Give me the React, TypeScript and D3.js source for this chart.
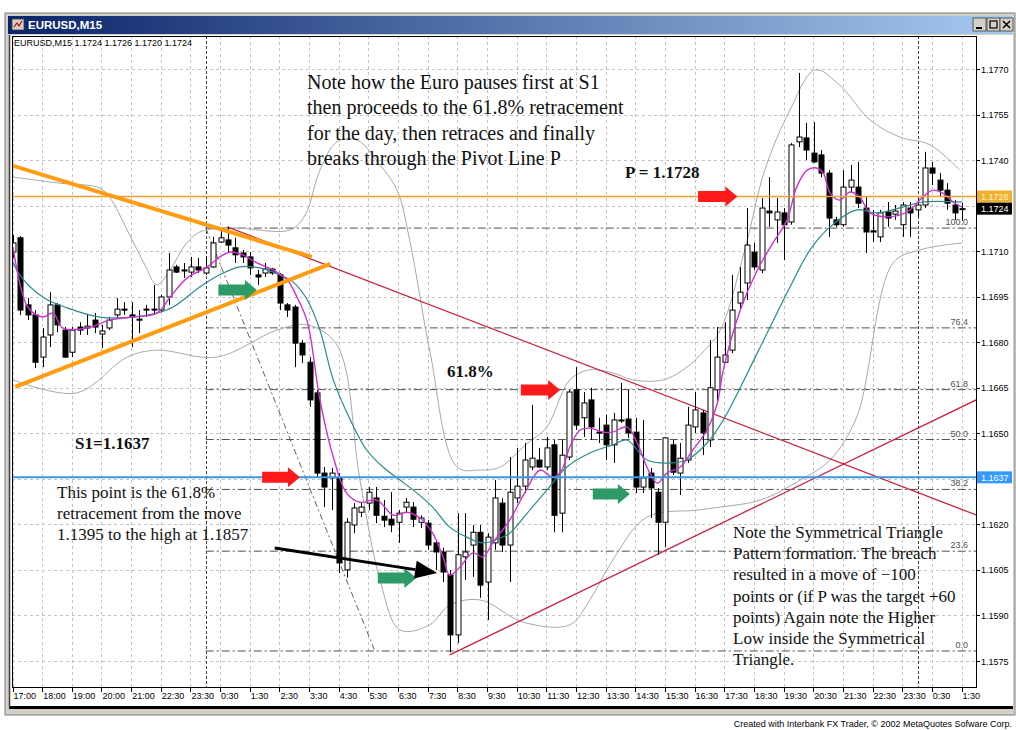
import React from "react";
import * as d3 from "d3";

// ---------- DATA (EURUSD M15) ----------
const barOpen = [1.17097,1.17144,1.16923,1.16890,1.16751,1.16824,1.16923,1.16840,1.16767,1.16850,1.16847,1.16873,1.16827,1.16847,1.16890,1.16909,1.16890,1.16876,1.16906,1.16906,1.16906,1.16949,1.17048,1.17038,1.17031,1.17048,1.17028,1.17048,1.17130,1.17137,1.17111,1.17094,1.17081,1.17022,1.17028,1.17041,1.17022,1.16923,1.16916,1.16797,1.16734,1.16633,1.16369,1.16353,1.16353,1.16050,1.16198,1.16240,1.16270,1.16287,1.16227,1.16217,1.16207,1.16257,1.16257,1.16207,1.16204,1.16139,1.16109,1.16034,1.15836,1.16093,1.16132,1.16174,1.16010,1.16139,1.16270,1.16132,1.16287,1.16326,1.16389,1.16412,1.16389,1.16462,1.16237,1.16422,1.16643,1.16551,1.16610,1.16504,1.16527,1.16462,1.16541,1.16547,1.16504,1.16323,1.16369,1.16306,1.16207,1.16462,1.16369,1.16412,1.16521,1.16567,1.16478,1.16643,1.16734,1.16774,1.16929,1.16995,1.17097,1.17038,1.17232,1.17203,1.17226,1.17196,1.17460,1.17473,1.17423,1.17417,1.17357,1.17203,1.17187,1.17311,1.17311,1.17242,1.17167,1.17147,1.17229,1.17222,1.17187,1.17242,1.17236,1.17252,1.17374,1.17334,1.17301,1.17252,1.17240];
const barHigh = [1.17153,1.17150,1.16946,1.16906,1.16847,1.16965,1.16929,1.16850,1.16850,1.16866,1.16890,1.16896,1.16857,1.16883,1.16946,1.16932,1.16932,1.16906,1.16923,1.16989,1.16956,1.17094,1.17055,1.17061,1.17081,1.17078,1.17081,1.17147,1.17170,1.17180,1.17144,1.17104,1.17097,1.17038,1.17061,1.17045,1.17028,1.16929,1.16923,1.16807,1.16751,1.16643,1.16389,1.16386,1.16369,1.16221,1.16270,1.16273,1.16323,1.16323,1.16280,1.16306,1.16247,1.16287,1.16273,1.16230,1.16214,1.16149,1.16123,1.16050,1.16237,1.16237,1.16198,1.16198,1.16171,1.16346,1.16287,1.16422,1.16452,1.16468,1.16594,1.16452,1.16488,1.16478,1.16478,1.16643,1.16718,1.16636,1.16650,1.16551,1.16561,1.16567,1.16666,1.16643,1.16551,1.16544,1.16386,1.16320,1.16488,1.16478,1.16468,1.16587,1.16636,1.16577,1.16807,1.16850,1.16866,1.17022,1.17048,1.17242,1.17127,1.17275,1.17344,1.17275,1.17242,1.17456,1.17687,1.17522,1.17525,1.17433,1.17367,1.17213,1.17367,1.17384,1.17394,1.17278,1.17236,1.17236,1.17262,1.17252,1.17262,1.17262,1.17275,1.17427,1.17394,1.17357,1.17324,1.17268,1.17260];
const barLow = [1.17078,1.16890,1.16873,1.16715,1.16718,1.16784,1.16833,1.16748,1.16751,1.16824,1.16824,1.16830,1.16781,1.16840,1.16880,1.16890,1.16784,1.16830,1.16883,1.16890,1.16899,1.16923,1.17028,1.17012,1.17015,1.17028,1.17022,1.17045,1.17127,1.17097,1.17061,1.17061,1.17022,1.16989,1.17015,1.17022,1.16906,1.16883,1.16718,1.16731,1.16587,1.16356,1.16257,1.16247,1.16040,1.16024,1.16171,1.16224,1.16247,1.16204,1.16191,1.16174,1.16139,1.16237,1.16191,1.16188,1.16116,1.16050,1.16010,1.15779,1.15809,1.16017,1.16027,1.15958,1.15885,1.16116,1.16109,1.16010,1.16270,1.16303,1.16379,1.16386,1.16379,1.16174,1.16174,1.16412,1.16511,1.16488,1.16478,1.16468,1.16412,1.16402,1.16534,1.16485,1.16303,1.16303,1.16221,1.16100,1.16126,1.16363,1.16297,1.16402,1.16501,1.16428,1.16455,1.16600,1.16731,1.16764,1.16906,1.16939,1.17038,1.17028,1.17180,1.17127,1.17071,1.17187,1.17443,1.17400,1.17390,1.17344,1.17147,1.17180,1.17180,1.17295,1.17242,1.17094,1.17130,1.17130,1.17180,1.17203,1.17147,1.17147,1.17213,1.17242,1.17318,1.17278,1.17236,1.17203,1.17200];
const barClose = [1.17127,1.16906,1.16890,1.16734,1.16817,1.16923,1.16857,1.16751,1.16840,1.16840,1.16853,1.16850,1.16837,1.16873,1.16909,1.16906,1.16883,1.16873,1.16909,1.16909,1.16949,1.17038,1.17031,1.17035,1.17048,1.17038,1.17045,1.17127,1.17144,1.17120,1.17088,1.17081,1.17045,1.17015,1.17041,1.17028,1.16929,1.16906,1.16797,1.16758,1.16610,1.16369,1.16323,1.16369,1.16073,1.16207,1.16254,1.16257,1.16306,1.16230,1.16214,1.16198,1.16237,1.16273,1.16217,1.16221,1.16132,1.16109,1.16043,1.15836,1.16100,1.16109,1.16174,1.16000,1.16158,1.16287,1.16132,1.16306,1.16326,1.16412,1.16418,1.16389,1.16452,1.16230,1.16428,1.16636,1.16527,1.16600,1.16521,1.16501,1.16462,1.16544,1.16544,1.16501,1.16323,1.16353,1.16320,1.16207,1.16485,1.16372,1.16418,1.16527,1.16577,1.16501,1.16650,1.16751,1.16758,1.16906,1.16965,1.17120,1.17048,1.17242,1.17226,1.17229,1.17187,1.17450,1.17476,1.17433,1.17394,1.17357,1.17209,1.17187,1.17311,1.17334,1.17258,1.17163,1.17163,1.17226,1.17209,1.17232,1.17252,1.17226,1.17252,1.17374,1.17357,1.17301,1.17258,1.17226,1.17240];

const timeLabels = ["17:00","18:00","19:00","20:00","21:00","22:30","23:30","0:30","1:30","2:30","3:30","4:30","5:30","6:30","7:30","8:30","9:30","10:30","11:30","12:30","13:30","14:30","15:30","16:30","17:30","18:30","19:30","20:30","21:30","22:30","23:30","0:30","1:30"];
const priceTicks = [1.1770,1.1755,1.1740,1.1725,1.1710,1.1695,1.1680,1.1665,1.1650,1.1635,1.1620,1.1605,1.1590,1.1575];
const hiddenTickLabels = [1.1725];

// fast MA (magenta) read as [bar, price]
const fastMA: [number, number][] = [[0,1.17114],[2,1.16916],[4,1.16883],[5.4,1.16896],[6.7,1.16847],[10,1.16847],[13,1.16873],[16,1.16883],[19.4,1.16896],[21.2,1.16949],[23.5,1.17012],[26.2,1.17048],[27.9,1.17081],[29.3,1.17097],[31,1.17088],[32.9,1.17061],[35.1,1.17038],[37,1.17005],[38.3,1.16949],[39.7,1.16867],[41.4,1.16610],[43.2,1.16422],[45,1.16303],[46.8,1.16273],[49.1,1.16280],[51.3,1.16230],[53.1,1.16240],[54.9,1.16221],[56.6,1.16171],[58,1.16093],[58.9,1.16033],[60.3,1.16060],[62,1.16106],[63.4,1.16093],[64.7,1.16139],[65.7,1.16171],[67,1.16214],[69,1.16303],[71.1,1.16379],[72.8,1.16356],[74,1.16379],[75.1,1.16455],[76.5,1.16511],[77.8,1.16517],[79.6,1.16504],[80.9,1.16504],[82.8,1.16521],[84.2,1.16468],[85.5,1.16389],[86.9,1.16336],[88.2,1.16369],[90,1.16389],[91.7,1.16445],[93.6,1.16511],[95,1.16600],[95.8,1.16709],[98.1,1.16906],[100.4,1.17038],[102.5,1.17127],[104.4,1.17203],[105.7,1.17311],[107.1,1.17367],[108.4,1.17374],[109.3,1.17357],[110.2,1.17292],[111.5,1.17268],[112.9,1.17295],[114.2,1.17278],[115.6,1.17226],[117.9,1.17213],[120.6,1.17229],[122.7,1.17278],[124.1,1.17301],[125.4,1.17291],[126.8,1.17262],[128,1.17245]];
// slow MA (teal)
const slowMA: [number, number][] = [[0,1.17064],[0.9,1.17022],[4,1.16949],[7.3,1.16913],[11.7,1.16883],[16.2,1.16883],[19.4,1.16896],[21.6,1.16916],[25.2,1.16982],[27.9,1.17022],[30.6,1.17048],[33.3,1.17045],[36,1.17022],[37.8,1.16998],[39.7,1.16939],[41.4,1.16840],[43.2,1.16676],[45.5,1.16544],[47.7,1.16445],[49.9,1.16389],[52.2,1.16346],[54.5,1.16303],[56.6,1.16257],[58.9,1.16191],[61.2,1.16158],[63.4,1.16139],[65.7,1.16155],[67,1.16171],[69.7,1.16247],[72,1.16313],[74.7,1.16389],[77.8,1.16435],[80.9,1.16462],[82.8,1.16478],[85.5,1.16412],[88.2,1.16402],[90.9,1.16412],[93.6,1.16468],[95.8,1.16544],[100.4,1.16765],[104.8,1.16982],[107.5,1.17104],[110.2,1.17180],[113.8,1.17236],[116.5,1.17226],[120,1.17245],[122.7,1.17262],[128,1.17262]];
// bands (grey)
const bandUpper: [number, number][] = [[0,1.17344],[6.3,1.17324],[11.7,1.17308],[13.1,1.17275],[15.4,1.17170],[17.8,1.17054],[19.4,1.16989],[21.2,1.17038],[23.2,1.17120],[25.2,1.17163],[29.7,1.17176],[37.4,1.17170],[39.4,1.17219],[41.4,1.17367],[43.7,1.17460],[46.4,1.17466],[49.5,1.17384],[51.8,1.17301],[53.5,1.17137],[56.2,1.16774],[59.9,1.16389],[63,1.16379],[65.7,1.16389],[69.1,1.16461],[72,1.16521],[75.1,1.16676],[77.8,1.16709],[80.9,1.16699],[83.6,1.16676],[87.7,1.16676],[90.9,1.16718],[93.3,1.16774],[95.4,1.16840],[98.7,1.17104],[101.4,1.17367],[104.8,1.17565],[108.2,1.17697],[111.5,1.17647],[115.6,1.17532],[119.6,1.17476],[123.7,1.17450],[127.7,1.17367]];
const bandLower: [number, number][] = [[0,1.16676],[8.6,1.16633],[15.4,1.16751],[19.4,1.16774],[27.5,1.16751],[35.6,1.16840],[39.7,1.16857],[43.7,1.16791],[46.8,1.16346],[49.5,1.16017],[52.2,1.15852],[56.2,1.15869],[58.9,1.15934],[63,1.15951],[68.8,1.15878],[75.1,1.15869],[77.8,1.15951],[80.9,1.16083],[85.5,1.16224],[92.3,1.16247],[95.4,1.16257],[100.8,1.16280],[106.2,1.16346],[110.2,1.16412],[113.8,1.16554],[118.7,1.17061],[122.3,1.17104],[128,1.17127]];

const pivotP = 1.1728;
const s1Line = 1.16355;
const s1Label = "1.1637";
const lastPrice = 1.1724;
const fibLow = 1.15783;
const fibHigh = 1.17176;
const fibLevels = [0, 23.6, 38.2, 50.0, 61.8, 76.4, 100.0];
const fibStartBar = 26;
const fibDiagonal: [number, number][] = [[26, 1.17176], [48.8, 1.15783]];
const separatorBars = [26, 122];
const orangeUpper: [number, number][] = [[-0.4, 1.17384], [40.3, 1.17081]];
const orangeLower: [number, number][] = [[0.3, 1.16653], [42.8, 1.17058]];
const redUpper: [number, number][] = [[28.9, 1.17180], [129.9, 1.16231]];
const redLower: [number, number][] = [[58.9, 1.15770], [129.9, 1.16610]];
// block arrows: [fromBar, toBar, price]
const redArrows: [number, number, number][] = [[92.4, 97.7, 1.1728], [68.5, 73.8, 1.16643], [33.6, 38.7, 1.16355]];
const greenArrows: [number, number, number][] = [[27.7, 32.9, 1.16972], [49.2, 54.4, 1.16023], [78.2, 83.2, 1.16300]];
const blackArrow: [number, number][] = [[35.3, 1.16122], [57.2, 1.16040]];

const noteTop = ["Note how the Euro pauses first at S1", "then proceeds to the 61.8% retracement", "for the day, then retraces and finally", "breaks through the Pivot Line P"];
const noteLeft = ["This point is the 61.8%", "retracement from the move", "1.1395 to the high at 1.1857"];
const noteRight = ["Note the Symmetrical Triangle", "Pattern formation. The breach", "resulted in a move of \u2212100", "points or (if P was the target +60", "points) Again note the Higher", "Low inside the Symmetrical", "Triangle."];

// ---------- LAYOUT ----------
const W = 1016, H = 730;
const plot = { left: 12, right: 976, top: 36, bottom: 687 };
const serif = "'Liberation Serif', 'Times New Roman', serif";
const sans = "'Liberation Sans', Arial, sans-serif";

export default function App() {
  const x = d3.scaleLinear().domain([0, 128]).range([13, 962]);
  const y = d3.scaleLinear().domain([1.1575, 1.1770]).range([661, 69]);
  const curve = d3.line<[number, number]>().x(d => x(d[0])).y(d => y(d[1])).curve(d3.curveCatmullRom.alpha(0.5));
  const bw = 5;

  const blockArrow = (a: [number, number, number]) => {
    const x0 = x(a[0]), x1 = x(a[1]), yc = y(a[2]);
    const hl = 12;
    return `M${x0},${yc - 5.5}L${x1 - hl},${yc - 5.5}L${x1 - hl},${yc - 10}L${x1},${yc}L${x1 - hl},${yc + 10}L${x1 - hl},${yc + 5.5}L${x0},${yc + 5.5}Z`;
  };

  const bx0 = x(blackArrow[0][0]), by0 = y(blackArrow[0][1]);
  const bx1 = x(blackArrow[1][0]), by1 = y(blackArrow[1][1]);
  const ang = Math.atan2(by1 - by0, bx1 - bx0);
  const headL = 22, headW = 9;
  const hbx = bx1 - headL * Math.cos(ang), hby = by1 - headL * Math.sin(ang);
  const head = `M${bx1},${by1}L${hbx + headW * Math.sin(ang)},${hby - headW * Math.cos(ang)}L${hbx - headW * Math.sin(ang)},${hby + headW * Math.cos(ang)}Z`;

  const fibY = (lvl: number) => y(fibLow + (fibHigh - fibLow) * lvl / 100);

  const tickX = (i: number) => x(i * 4) - 0.5;

  return (
    <svg width={W} height={H} style={{ position: "absolute", left: 0, top: 0, background: "#fff" }}>
      <defs>
        <linearGradient id="tb" x1="0" x2="1" y1="0" y2="0">
          <stop offset="0" stopColor="#0a246a" />
          <stop offset="1" stopColor="#a6caf0" />
        </linearGradient>
        <clipPath id="clip"><rect x={plot.left} y={plot.top} width={plot.right - plot.left} height={plot.bottom - plot.top} /></clipPath>
      </defs>
      {/* window frame */}
      <rect x={5} y={13} width={1010} height={702} fill="#d4d0c8" stroke="#808080" />
      <rect x={8} y={16} width={1004} height={18} fill="url(#tb)" />
      <rect x={12} y={19} width={12} height={11} fill="#d4d0c8" stroke="#404040" strokeWidth={0.8} />
      <path d="M14,27 L17,23 L19,26 L22,21" stroke="#c00000" fill="none" strokeWidth={1.2} />
      <text x={28} y={29} fill="#fff" fontFamily={sans} fontWeight="bold" fontSize={11.5}>EURUSD,M15</text>
      {[973, 987, 1000].map((bxp, i) => (
        <g key={i}>
          <rect x={bxp} y={18} width={13} height={13} fill="#d4d0c8" stroke="#404040" strokeWidth={0.8} />
          {i === 0 && <line x1={bxp + 3} x2={bxp + 9} y1={28} y2={28} stroke="#000" strokeWidth={2} />}
          {i === 1 && <rect x={bxp + 3} y={21} width={7} height={7} fill="none" stroke="#000" strokeWidth={1.2} />}
          {i === 2 && <path d={`M${bxp + 3},${21}L${bxp + 10},${28}M${bxp + 10},${21}L${bxp + 3},${28}`} stroke="#000" strokeWidth={1.5} />}
        </g>
      ))}
      {/* client area */}
      <rect x={9} y={35} width={1004} height={671} fill="#fff" />
      <line x1={9} x2={1013} y1={707.5} y2={707.5} stroke="#000" strokeWidth={3} />
      <line x1={9.5} x2={9.5} y1={35} y2={708} stroke="#404040" strokeWidth={1.5} />

      {/* grid */}
      <g stroke="#c4c4c4" strokeWidth={1} strokeDasharray="3,3">
        {priceTicks.map((p, i) => <line key={"h" + i} x1={plot.left} x2={plot.right} y1={Math.round(y(p)) + 0.5} y2={Math.round(y(p)) + 0.5} />)}
        {timeLabels.map((_, i) => <line key={"v" + i} x1={Math.round(tickX(i)) + 0.5} x2={Math.round(tickX(i)) + 0.5} y1={plot.top} y2={plot.bottom} />)}
      </g>

      <g clipPath="url(#clip)">
        {/* period separators */}
        {separatorBars.map((b, i) => <line key={i} x1={Math.round(x(b)) + 0.5} x2={Math.round(x(b)) + 0.5} y1={plot.top} y2={plot.bottom} stroke="#404040" strokeDasharray="3,2" />)}
        {/* fibonacci */}
        {fibLevels.map((l, i) => (
          <line key={i} x1={x(fibStartBar)} x2={plot.right} y1={fibY(l)} y2={fibY(l)} stroke="#505050" strokeWidth={1} strokeDasharray="8,3,2,3" />
        ))}
        <line x1={x(fibDiagonal[0][0])} y1={y(fibDiagonal[0][1])} x2={x(fibDiagonal[1][0])} y2={y(fibDiagonal[1][1])} stroke="#606060" strokeDasharray="6,3,2,3" />
        {/* bands */}
        <path d={curve(bandUpper) || ""} fill="none" stroke="#a8a8a8" strokeWidth={1} />
        <path d={curve(bandLower) || ""} fill="none" stroke="#a8a8a8" strokeWidth={1} />
        {/* red trendlines */}
        {[redUpper, redLower].map((l, i) => (
          <line key={i} x1={x(l[0][0])} y1={y(l[0][1])} x2={x(l[1][0])} y2={y(l[1][1])} stroke="#c8203c" strokeWidth={1.3} />
        ))}
        {/* candles */}
        {barOpen.map((o, i) => {
          const c = barClose[i];
          const up = c >= o;
          const cx = Math.round(x(i)) + 0.5;
          const top = y(Math.max(o, c)), bot = y(Math.min(o, c));
          return (
            <g key={i}>
              <line x1={cx} x2={cx} y1={y(barHigh[i])} y2={y(barLow[i])} stroke="#000" strokeWidth={1} />
              <rect x={cx - bw / 2} y={top} width={bw} height={Math.max(1, bot - top)} fill={up ? "#fff" : "#000"} stroke="#000" strokeWidth={1} />
            </g>
          );
        })}
        {/* moving averages */}
        <path d={curve(slowMA) || ""} fill="none" stroke="#2a8a8a" strokeWidth={1.2} />
        <path d={curve(fastMA) || ""} fill="none" stroke="#cc33cc" strokeWidth={1.4} />
        {/* pivot lines */}
        <line x1={plot.left} x2={plot.right} y1={y(pivotP)} y2={y(pivotP)} stroke="#f0a030" strokeWidth={1.6} />
        <line x1={plot.left} x2={plot.right} y1={y(s1Line)} y2={y(s1Line)} stroke="#3c96e6" strokeWidth={2} />
        {/* orange triangle */}
        {[orangeUpper, orangeLower].map((l, i) => (
          <line key={i} x1={x(l[0][0])} y1={y(l[0][1])} x2={x(l[1][0])} y2={y(l[1][1])} stroke="#ff9c10" strokeWidth={4} />
        ))}
      </g>

      {/* fib labels */}
      {fibLevels.map((l, i) => (
        <text key={i} x={968} y={fibY(l) - 3} textAnchor="end" fontFamily={sans} fontSize={9} fill="#505050">{l.toFixed(1)}</text>
      ))}

      {/* plot frame */}
      <rect x={plot.left + 0.5} y={plot.top + 0.5} width={plot.right - plot.left} height={plot.bottom - plot.top} fill="none" stroke="#000" strokeWidth={1} />

      {/* price axis */}
      {priceTicks.map((p, i) => (
        <g key={i}>
          <line x1={plot.right} x2={plot.right + 4} y1={Math.round(y(p)) + 0.5} y2={Math.round(y(p)) + 0.5} stroke="#000" />
          {!hiddenTickLabels.includes(p) && (
            <text x={plot.right + 5} y={y(p) + 3.5} fontFamily={sans} fontSize={9} fill="#000">{p.toFixed(4)}</text>
          )}
        </g>
      ))}
      {/* price boxes */}
      <rect x={plot.right + 1} y={y(pivotP) - 6} width={35} height={12} fill="#f0b030" />
      <text x={plot.right + 5} y={y(pivotP) + 3.5} fontFamily={sans} fontSize={9} fill="#fff4c0">{pivotP.toFixed(4)}</text>
      <rect x={plot.right + 1} y={y(lastPrice) - 6} width={35} height={12} fill="#000" />
      <text x={plot.right + 5} y={y(lastPrice) + 3.5} fontFamily={sans} fontSize={9} fill="#fff">{lastPrice.toFixed(4)}</text>
      <rect x={plot.right + 1} y={y(s1Line) - 6} width={35} height={12} fill="#3399ff" />
      <text x={plot.right + 5} y={y(s1Line) + 3.5} fontFamily={sans} fontSize={9} fill="#fff">{s1Label}</text>

      {/* time axis */}
      {timeLabels.map((t, i) => (
        <g key={i}>
          <line x1={Math.round(tickX(i)) + 0.5} x2={Math.round(tickX(i)) + 0.5} y1={plot.bottom} y2={plot.bottom + 5} stroke="#000" />
          <text x={tickX(i) + 1} y={699} fontFamily={sans} fontSize={9} fill="#000">{t}</text>
        </g>
      ))}

      {/* header */}
      <text x={14} y={46} fontFamily={sans} fontSize={9} fill="#000">EURUSD,M15  1.1724 1.1726 1.1720 1.1724</text>

      {/* arrows */}
      {redArrows.map((a, i) => <path key={"r" + i} d={blockArrow(a)} fill="#ff1a1a" />)}
      {greenArrows.map((a, i) => <path key={"g" + i} d={blockArrow(a)} fill="#2e9a66" />)}
      <line x1={bx0} y1={by0} x2={hbx} y2={hby} stroke="#000" strokeWidth={3} />
      <path d={head} fill="#000" />

      {/* annotations */}
      <g fontFamily={serif} fill="#111">
        {noteTop.map((t, i) => <text key={i} x={307} y={89 + i * 25.3} fontSize={20}>{t}</text>)}
        <text x={625} y={178} fontSize={17} fontWeight="bold">P = 1.1728</text>
        <text x={447} y={377} fontSize={17} fontWeight="bold">61.8%</text>
        <text x={75} y={449} fontSize={17} fontWeight="bold">S1=1.1637</text>
        {noteLeft.map((t, i) => <text key={i} x={57} y={498 + i * 21} fontSize={17}>{t}</text>)}
        {noteRight.map((t, i) => <text key={i} x={733} y={538 + i * 21.2} fontSize={17}>{t}</text>)}
      </g>

      <text x={1012} y={727} textAnchor="end" fontFamily={sans} fontSize={9} fill="#000">Created with Interbank FX Trader, © 2002 MetaQuotes Sofware Corp.</text>
    </svg>
  );
}
